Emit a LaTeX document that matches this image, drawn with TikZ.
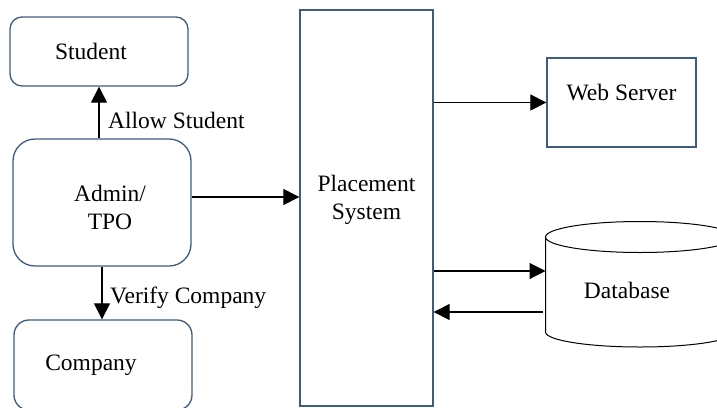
\documentclass[tikz,border=0pt]{standalone}
\usepackage{fontspec}
\setmainfont{Liberation Serif}
\usetikzlibrary{arrows.meta}
\definecolor{edgeblue}{RGB}{62,92,126}
\begin{document}
\begin{tikzpicture}[x=1pt,y=1pt,
  font=\fontsize{23.5}{28}\selectfont,
  box/.style={draw=edgeblue, line width=1.3pt, inner sep=0pt, align=center},
  arr/.style={draw=black, line width=1.1pt, -{Triangle[length=16pt,width=16pt]}},
  lbl/.style={inner sep=0pt, anchor=base west}]
\useasboundingbox (0,0) rectangle (717,-407);

% actors on the left
\node[box, rounded corners=12pt, minimum width=178pt, minimum height=69pt] (student) at (99,-51.5)
  {\hspace*{-16pt}Student};
\node[box, rounded corners=22pt, minimum width=178pt, minimum height=127pt] (admin) at (102,-202.5)
  {\hspace*{16pt}\begin{tabular}{@{}c@{}}\rule{0pt}{33.6pt}Admin/\\TPO\end{tabular}};
\node[box, rounded corners=15pt, minimum width=178pt, minimum height=90pt] (company) at (103,-365)
  {\hspace*{-24pt}Company};

% central system
\node[box, minimum width=133pt, minimum height=396pt] (placement) at (366.5,-208)
  {\raisebox{38pt}{\begin{tabular}{@{}c@{}}Placement\\System\end{tabular}}};

% web server
\node[box, minimum width=149pt, minimum height=89pt] (web) at (621.5,-102.5) {\raisebox{20pt}{Web Server}};

% database cylinder
\draw[line width=1pt] (545.5,-237) -- (545.5,-332)
  arc[start angle=180, end angle=360, x radius=94.5, y radius=15] -- (734.5,-237);
\draw[line width=1pt, fill=white] (640,-237) ellipse[x radius=94.5, y radius=15.5];
\node[inner sep=0pt] (db) at (627,-290) {Database};
\coordinate (dbin) at (545.5,-271);
\coordinate (dbout) at (543,-312);

% connectors
\draw[arr] (admin.north -| student.south) -- (student.south);
\node[lbl] (allowlbl) at (108,-128) {Allow Student};
\draw[arr] (admin.south) -- (admin.south |- company.north);
\node[lbl] (verifylbl) at (110,-303) {Verify Company};
\coordinate (adminout) at ([yshift=5.5pt]admin.east);
\draw[arr] (adminout) -- (placement.west |- adminout);
\draw[arr] (placement.east |- web.west) -- (web.west);
\draw[arr] (placement.east |- dbin) -- (dbin);
\draw[arr] (dbout) -- (placement.east |- dbout);
\end{tikzpicture}
\end{document}
